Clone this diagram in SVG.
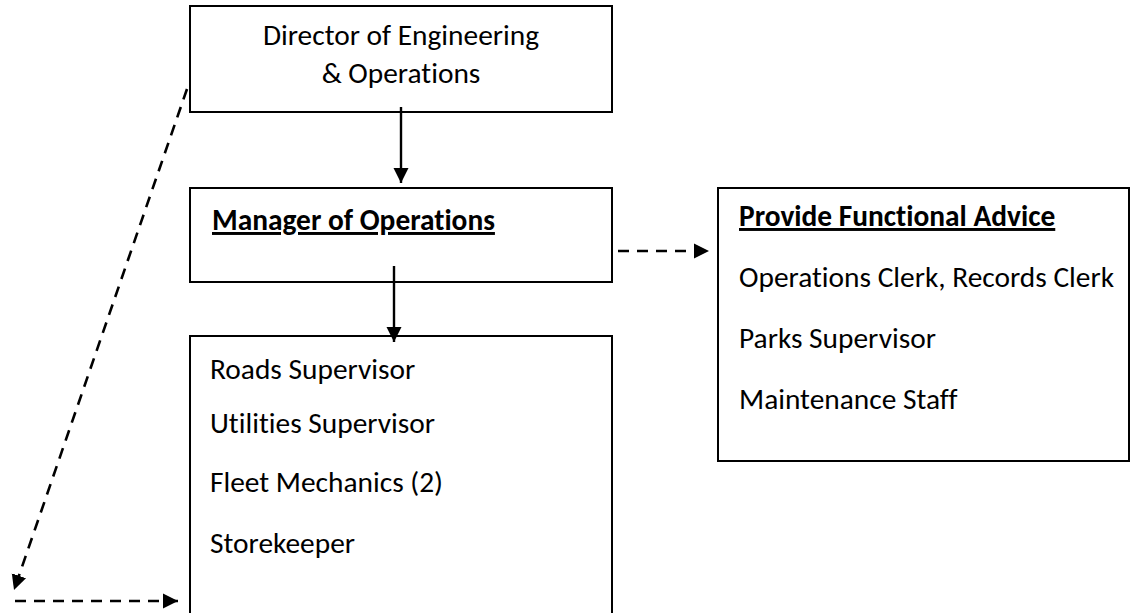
<svg xmlns="http://www.w3.org/2000/svg" width="1131" height="613" viewBox="0 0 1131 613">
  <style>
    .box { fill: #ffffff; stroke: #000000; stroke-width: 2; }
    .txt { font-family: Carlito, Calibri, Lato, "Liberation Sans", sans-serif; font-size: 29.4px; fill: #000000; font-variant-ligatures: none; }
    .head { font-weight: bold; text-decoration: underline; }
    .solid { stroke: #000000; stroke-width: 2.4; fill: none; }
    .dash { stroke: #000000; stroke-width: 2.6; fill: none; stroke-dasharray: 11 8; }
  </style>
  <defs>
    <marker id="arrow" markerUnits="userSpaceOnUse" markerWidth="16" markerHeight="16" refX="15" refY="8" orient="auto">
      <path d="M0,0.5 L15,8 L0,15.5 Z" fill="#000000"/>
    </marker>
  </defs>
  <rect width="1131" height="613" fill="#ffffff"/>

  <g id="director">
    <rect class="box" x="190" y="6" width="422" height="106"/>
    <text class="txt" x="401" y="45" text-anchor="middle">Director of Engineering</text>
    <text class="txt" x="401" y="83" text-anchor="middle">&amp; Operations</text>
  </g>

  <g id="manager">
    <rect class="box" x="190" y="188" width="422" height="94"/>
    <text class="txt head" x="212" y="230">Manager of Operations</text>
  </g>

  <g id="staff">
    <rect class="box" x="190" y="336" width="422" height="300"/>
    <text class="txt" x="210" y="379">Roads Supervisor</text>
    <text class="txt" x="210" y="433">Utilities Supervisor</text>
    <text class="txt" x="210" y="492">Fleet Mechanics (2)</text>
    <text class="txt" x="210" y="553">Storekeeper</text>
  </g>

  <g id="advice">
    <rect class="box" x="718" y="188" width="411" height="273"/>
    <text class="txt head" x="739" y="226">Provide Functional Advice</text>
    <text class="txt" x="739" y="287">Operations Clerk, Records Clerk</text>
    <text class="txt" x="739" y="348">Parks Supervisor</text>
    <text class="txt" x="739" y="409">Maintenance Staff</text>
  </g>

  <g id="connectors">
    <line class="solid" x1="401" y1="107" x2="401" y2="183" marker-end="url(#arrow)"/>
    <line class="solid" x1="394" y1="266" x2="394" y2="342" marker-end="url(#arrow)"/>
    <line class="dash" x1="618" y1="251" x2="709" y2="251" marker-end="url(#arrow)"/>
    <line class="dash" x1="187" y1="89" x2="14" y2="590" marker-end="url(#arrow)"/>
    <line class="dash" x1="15" y1="601" x2="178" y2="601" marker-end="url(#arrow)"/>
  </g>
</svg>
